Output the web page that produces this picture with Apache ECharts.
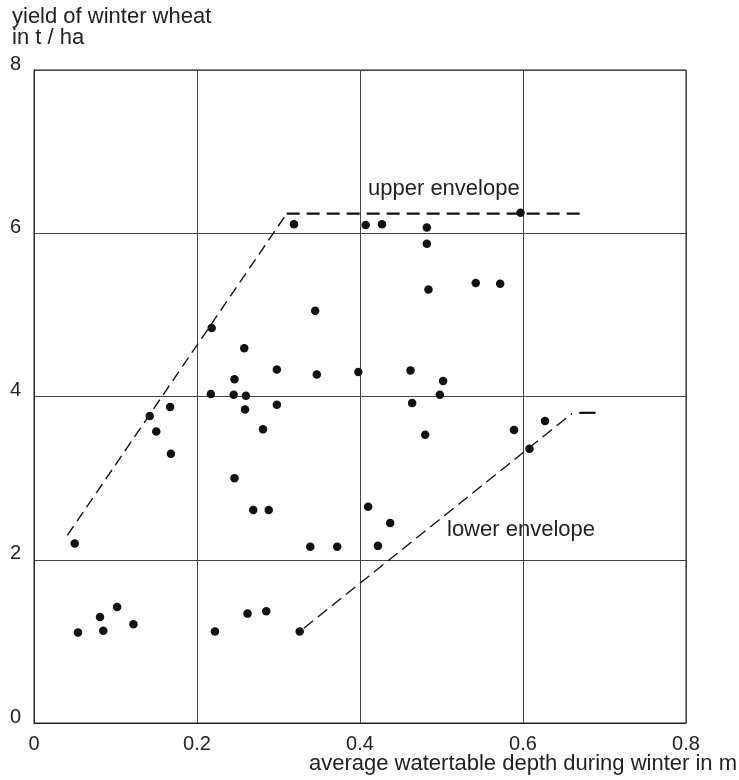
<!DOCTYPE html>
<html>
<head>
<meta charset="utf-8">
<script src="https://cdn.jsdelivr.net/npm/echarts@6/dist/echarts.min.js"></script>
<style>
html,body{margin:0;padding:0;background:#fff;}
#chart{width:739px;height:780px;}
</style>
</head>
<body>
<div id="chart"></div>
<script>
// Observations: average watertable depth (m) and yield (t/ha)
const depth = [0.050,0.054,0.081,0.085,0.102,0.122,0.142,0.150,0.167,0.168,
  0.217,0.218,0.222,0.245,0.246,0.246,0.258,0.259,0.260,0.262,
  0.269,0.281,0.285,0.288,0.298,0.298,0.319,0.326,0.339,0.345,
  0.347,0.372,0.398,0.407,0.410,0.422,0.427,0.437,0.462,0.464,
  0.480,0.482,0.482,0.484,0.498,0.502,0.542,0.572,0.589,0.597,
  0.608,0.627];
const yieldVals = [2.20,1.11,1.30,1.13,1.42,1.21,3.76,3.57,3.87,3.30,
  4.03,4.84,1.12,4.02,4.21,3.00,4.59,3.84,4.01,1.34,
  2.61,3.60,1.37,2.61,4.33,3.90,6.11,1.12,2.16,5.05,
  4.27,2.16,4.30,6.10,2.65,2.17,6.11,2.45,4.32,3.92,
  3.53,6.07,5.87,5.31,4.02,4.19,5.39,5.38,3.59,6.25,
  3.36,3.70];

// Envelope lines
const upperSlopeX = [0.041, 0.310];
const upperSlopeY = [2.30, 6.24];
const upperFlatX = [0.310, 0.673];
const upperFlatY = [6.24, 6.24];
const lowerSlopeX = [0.331, 0.660];
const lowerSlopeY = [1.16, 3.79];
const lowerFlatX = [0.669, 0.689];
const lowerFlatY = [3.80, 3.80];

// Tick labels
const xTickLabels = ['0', '0.2', '0.4', '0.6', '0.8'];
const yTickLabels = ['0', '2', '4', '6', '8'];

// Text
const yAxisTitle = 'yield of winter wheat\nin t / ha';
const xAxisTitle = 'average watertable depth during winter in m';
const upperLabel = 'upper envelope';
const lowerLabel = 'lower envelope';

const zip = (xs, ys) => xs.map((x, i) => [x, ys[i]]);
const FONT = '"Liberation Sans", Arial, sans-serif';
const TXT = '#222';

const chart = echarts.init(document.getElementById('chart'), null, {renderer: 'canvas'});
chart.setOption({
  animation: false,
  backgroundColor: '#fff',
  grid: {left: 34, right: 53, top: 70, bottom: 57, show: true, borderColor: '#222', borderWidth: 1, containLabel: false},
  xAxis: {
    type: 'value', min: 0, max: 0.8, interval: 0.2,
    axisLine: {show: true, lineStyle: {color: '#222', width: 1}},
    axisTick: {show: false},
    splitLine: {show: true, lineStyle: {color: '#444', width: 1}},
    axisLabel: {
      margin: 11, fontSize: 20, fontFamily: FONT, color: TXT, lineHeight: 20,
      formatter: (v, i) => xTickLabels[Math.round(v / 0.2)]
    }
  },
  yAxis: {
    type: 'value', min: 0, max: 8, interval: 2,
    axisLine: {show: true, lineStyle: {color: '#222', width: 1}},
    axisTick: {show: false},
    splitLine: {show: true, lineStyle: {color: '#444', width: 1}},
    axisLabel: {
      margin: 24, align: 'left', verticalAlign: 'bottom', lineHeight: 12,
      fontSize: 20, fontFamily: FONT, color: TXT,
      formatter: (v) => yTickLabels[Math.round(v / 2)]
    }
  },
  series: [
    {type: 'line', data: zip(upperSlopeX, upperSlopeY), symbol: 'none', silent: true,
     lineStyle: {color: '#111', width: 1.4, type: [11, 6]}},
    {type: 'line', data: zip(upperFlatX, upperFlatY), symbol: 'none', silent: true,
     lineStyle: {color: '#111', width: 2.2, type: [13, 7]}},
    {type: 'line', data: zip(lowerSlopeX, lowerSlopeY), symbol: 'none', silent: true,
     lineStyle: {color: '#111', width: 1.4, type: [12, 6]}},
    {type: 'line', data: zip(lowerFlatX, lowerFlatY), symbol: 'none', silent: true,
     lineStyle: {color: '#111', width: 2.2, type: 'solid'}},
    {type: 'scatter', data: zip(depth, yieldVals), symbol: 'circle', symbolSize: 8.5,
     itemStyle: {color: '#111', opacity: 1}, z: 5}
  ],
  graphic: [
    {type: 'text', left: 12, top: 6, style: {text: yAxisTitle, fontSize: 22, lineHeight: 21, fontFamily: FONT, fill: TXT}},
    {type: 'text', right: 2, top: 753, style: {text: xAxisTitle, fontSize: 22, lineHeight: 22, fontFamily: FONT, fill: TXT}},
    {type: 'text', left: 368, top: 178, style: {text: upperLabel, fontSize: 22, lineHeight: 22, fontFamily: FONT, fill: TXT}},
    {type: 'text', left: 447, top: 519, style: {text: lowerLabel, fontSize: 22, lineHeight: 22, fontFamily: FONT, fill: TXT}}
  ]
});
</script>
</body>
</html>
